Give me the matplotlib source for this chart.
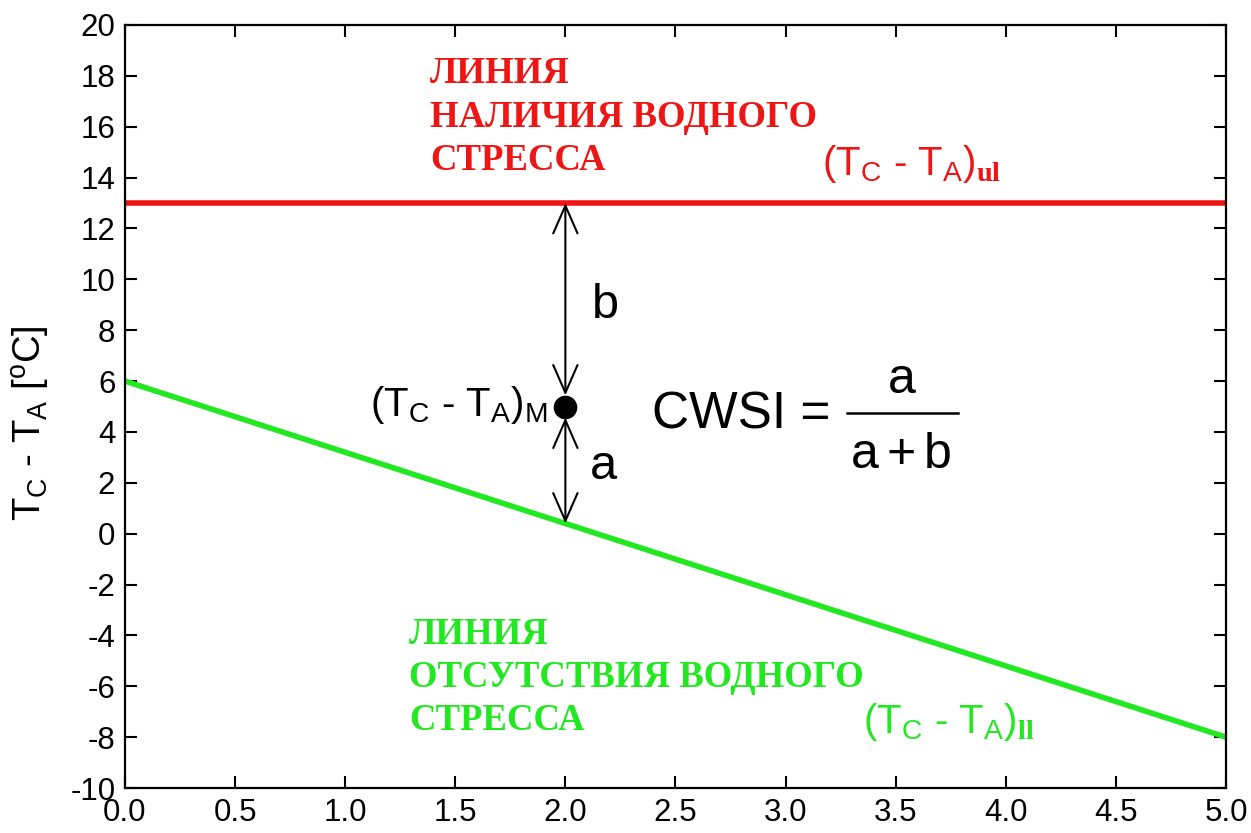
import matplotlib
matplotlib.use("Agg")
import matplotlib.pyplot as plt

plt.rcParams['font.family'] = ['Liberation Sans', 'DejaVu Sans']
plt.rcParams['mathtext.fontset'] = 'custom'
plt.rcParams['mathtext.rm'] = 'Liberation Sans'
plt.rcParams['mathtext.it'] = 'Liberation Sans'
plt.rcParams['mathtext.bf'] = 'Liberation Serif:bold'
plt.rcParams['axes.unicode_minus'] = False

# Data
x_line = [0.0, 5.0]
upper_limit = [13.0, 13.0]      # (Tc - Ta)_ul
lower_limit = [6.0, -8.0]       # (Tc - Ta)_ll
measured_x = 2.0
measured_y = 5.0
lower_at_measured = 0.4
x_ticks = [0.0, 0.5, 1.0, 1.5, 2.0, 2.5, 3.0, 3.5, 4.0, 4.5, 5.0]
y_ticks = list(range(-10, 21, 2))

RED = '#ee1515'
GREEN = '#22e822'

fig = plt.figure(figsize=(12.51, 8.33), dpi=100)
ax = fig.add_axes([0.0999, 0.054, 0.8801, 0.916])

ax.plot(x_line, upper_limit, color=RED, lw=4.0, solid_capstyle='butt')
ax.plot(x_line, lower_limit, color=GREEN, lw=4.0, solid_capstyle='butt')

astyle = '<->, head_length=0.8, head_width=0.35'
ax.annotate('', xy=(measured_x, upper_limit[0]), xytext=(measured_x, measured_y),
            arrowprops=dict(arrowstyle=astyle, lw=1.5, color='black',
                            mutation_scale=25, shrinkA=8, shrinkB=0))
ax.annotate('', xy=(measured_x, lower_at_measured), xytext=(measured_x, measured_y),
            arrowprops=dict(arrowstyle=astyle, lw=1.5, color='black',
                            mutation_scale=25, shrinkA=8, shrinkB=0))
ax.plot([measured_x], [measured_y], 'o', color='black', ms=16, zorder=5)

ax.set_xlim(0, 5)
ax.set_ylim(-10, 20)
ax.set_xticks(x_ticks)
ax.set_xticklabels([f'{v:.1f}' for v in x_ticks])
ax.set_yticks(y_ticks)
ax.tick_params(direction='in', length=8.5, width=1.5, labelsize=22.5,
               top=True, right=True, pad=7)
for s in ax.spines.values():
    s.set_linewidth(1.6)

ax.set_ylabel(r'T$_\mathrm{C}$ - T$_\mathrm{A}$ [$^\mathrm{o}$C]', fontsize=27.5)
ax.yaxis.set_label_coords(-0.066, 0.478)

# red texts
ax.text(1.385, 14.30, 'ЛИНИЯ\nНАЛИЧИЯ ВОДНОГО\nСТРЕССА', color=RED, fontsize=26.5,
        family='Liberation Serif', weight='bold', va='baseline', ha='left',
        linespacing=1.31)
ax.text(3.165, 14.1, r'(T$_\mathrm{C}$ - T$_\mathrm{A}$)$_\mathbf{ul}$', color=RED,
        fontsize=29, ha='left', va='baseline')

# green texts
ax.text(1.29, -7.7, 'ЛИНИЯ\nОТСУТСТВИЯ ВОДНОГО\nСТРЕССА', color=GREEN, fontsize=26.5,
        family='Liberation Serif', weight='bold', va='baseline', ha='left',
        linespacing=1.29)
ax.text(3.35, -7.84, r'(T$_\mathrm{C}$ - T$_\mathrm{A}$)$_\mathbf{ll}$', color=GREEN,
        fontsize=29, ha='left', va='baseline')

# annotations
ax.text(1.921, 5.06, r'(T$_\mathrm{C}$ - T$_\mathrm{A}$)$_\mathrm{M}$', fontsize=29,
        ha='right', va='center')
ax.text(2.121, 8.99, 'b', fontsize=35, ha='left', va='center')
ax.text(2.112, 2.66, 'a', fontsize=35, ha='left', va='center')

ax.text(2.393, 4.15, 'CWSI =', fontsize=37, ha='left', va='baseline')
ax.text(3.529, 5.53, 'a', fontsize=36, ha='center', va='baseline')
ax.text(3.524, 2.58, r'$\mathrm{a+b}$', fontsize=36, ha='center', va='baseline')
ax.plot([3.279, 3.783], [4.74, 4.74], color='black', lw=1.8)

fig.savefig('out.png', dpi=100)
